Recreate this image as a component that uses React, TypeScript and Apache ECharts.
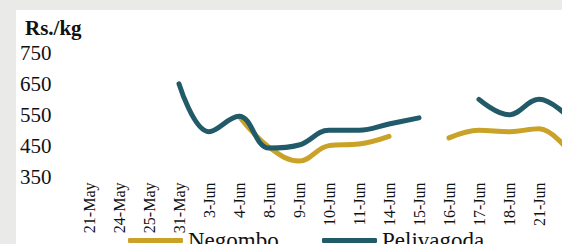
import React, { useEffect, useRef } from "react";
import * as echarts from "echarts";

const categories: string[] = [
  "21-May", "24-May", "25-May", "31-May", "3-Jun", "4-Jun", "8-Jun", "9-Jun",
  "10-Jun", "11-Jun", "14-Jun", "15-Jun", "16-Jun", "17-Jun", "18-Jun", "21-Jun", "22-Jun",
];

const negombo: (number | null)[] = [
  null, null, null, null, null, 545, 445, 400, 450, 455, 480, null, 475, 500, 495, 505, 430,
];

const pelivagoda: (number | null)[] = [
  null, null, null, 650, 495, 545, 442, 452, 500, 500, 520, 540, null, 600, 550, 600, 540,
];

const yTicks = { min: 350, max: 750, interval: 100 };

const FONT = "Liberation Serif";
const TEAL = "#215a69";
const GOLD = "#c9a227";

export default function App() {
  const ref = useRef<HTMLDivElement>(null);

  useEffect(() => {
    if (!ref.current) return;
    const chart = echarts.init(ref.current, undefined, { renderer: "svg" });
    const lastIdx = categories.length - 1;
    chart.setOption({
      animation: false,
      backgroundColor: "#ffffff",
      title: {
        text: "Rs./kg",
        left: 9,
        top: 7,
        padding: 0,
        textStyle: { fontFamily: FONT, fontSize: 21, fontWeight: "bold", color: "#111" },
      },
      legend: [
        {
          data: ["Negombo"],
          left: 112,
          top: 219,
          padding: 0,
          icon: "roundRect",
          itemWidth: 55,
          itemHeight: 5,
          textStyle: { fontFamily: FONT, fontSize: 23, color: "#111" },
        },
        {
          data: ["Pelivagoda"],
          left: 306,
          top: 219,
          padding: 0,
          icon: "roundRect",
          itemWidth: 55,
          itemHeight: 5,
          textStyle: { fontFamily: FONT, fontSize: 23, color: "#111" },
        },
      ],
      grid: { left: 73, top: 43, width: 480, height: 123.5, containLabel: false },
      xAxis: {
        type: "category",
        data: categories,
        boundaryGap: false,
        axisLine: { show: false },
        axisTick: { show: false },
        splitLine: { show: false },
        axisLabel: {
          rotate: 90,
          interval: (i: number) => i !== lastIdx,
          margin: 6,
          fontFamily: FONT,
          fontSize: 16,
          color: "#111",
        },
      },
      yAxis: {
        type: "value",
        min: yTicks.min,
        max: yTicks.max,
        interval: yTicks.interval,
        axisLine: { show: false },
        axisTick: { show: false },
        splitLine: { show: false },
        axisLabel: {
          align: "left",
          margin: 69,
          fontFamily: FONT,
          fontSize: 21,
          color: "#111",
        },
      },
      series: [
        {
          name: "Negombo",
          type: "line",
          data: negombo,
          smooth: 0.4,
          connectNulls: false,
          showSymbol: false,
          symbol: "none",
          itemStyle: { color: GOLD },
          lineStyle: { color: GOLD, width: 5, cap: "round" },
        },
        {
          name: "Pelivagoda",
          type: "line",
          data: pelivagoda,
          smooth: 0.4,
          connectNulls: false,
          showSymbol: false,
          symbol: "none",
          itemStyle: { color: TEAL },
          lineStyle: { color: TEAL, width: 5, cap: "round" },
        },
      ],
    });
    return () => chart.dispose();
  }, []);

  return (
    <div
      style={{
        position: "fixed",
        left: 0,
        top: 0,
        width: 562,
        height: 244,
        overflow: "hidden",
        background: "#eaebe9",
      }}
    >
      <div
        ref={ref}
        style={{ position: "absolute", left: 16, top: 10, width: 620, height: 250 }}
      />
    </div>
  );
}
